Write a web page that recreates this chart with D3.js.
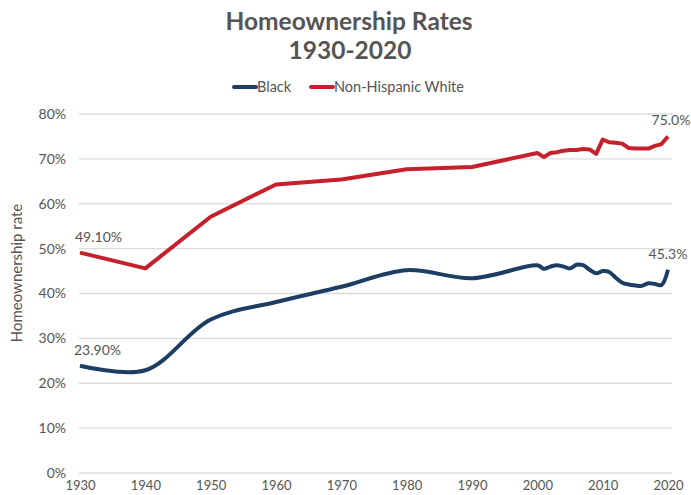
<!DOCTYPE html>
<html>
<head>
<meta charset="utf-8">
<script src="https://cdn.jsdelivr.net/npm/d3@7"></script>
<style>
  body { margin: 0; background: #fff; }
  text { font-family: Lato, "Open Sans", sans-serif; }
</style>
</head>
<body>
<div class="chart"></div>
<script>
// data
const blackYears = [1930, 1940, 1950, 1960, 1970, 1980, 1990,
  2000, 2001, 2002, 2003, 2004, 2005, 2006, 2007, 2008, 2009,
  2010, 2011, 2012, 2013, 2014, 2015, 2016, 2017, 2018, 2019, 2020];
const blackRates = [23.9, 22.9, 34.2, 38.1, 41.5, 45.2, 43.4,
  46.3, 45.5, 46.0, 46.3, 46.0, 45.6, 46.4, 46.3, 45.3, 44.5,
  45.0, 44.8, 43.5, 42.4, 42.0, 41.8, 41.7, 42.3, 42.1, 41.9, 45.3];

const whiteYears = [1930, 1940, 1950, 1960, 1970, 1980, 1990,
  2000, 2001, 2002, 2003, 2004, 2005, 2006, 2007, 2008, 2009,
  2010, 2011, 2012, 2013, 2014, 2015, 2016, 2017, 2018, 2019, 2020];
const whiteRates = [49.1, 45.6, 57.1, 64.3, 65.4, 67.7, 68.2,
  71.3, 70.4, 71.3, 71.5, 71.8, 72.0, 72.0, 72.2, 72.1, 71.1,
  74.3, 73.7, 73.6, 73.4, 72.4, 72.3, 72.3, 72.3, 72.9, 73.3, 75.0];

const xTicks = [1930, 1940, 1950, 1960, 1970, 1980, 1990, 2000, 2010, 2020];
const yTicks = [0, 10, 20, 30, 40, 50, 60, 70, 80];

const W = 691, H = 495;
const navy = "#1d3e62", red = "#c6202c", grey = "#555";

const svg = d3.select(".chart").append("svg")
  .attr("width", W)
  .attr("height", H);

const x = d3.scaleLinear().domain([1930, 2020]).range([80, 668]);
const y = d3.scaleLinear().domain([0, 80]).range([473, 114]);

// title
svg.append("text").attr("x", 349).attr("y", 30)
  .attr("text-anchor", "middle").attr("font-size", 24.5).attr("font-weight", 700)
  .attr("fill", grey).text("Homeownership Rates");
svg.append("text").attr("x", 350).attr("y", 59)
  .attr("text-anchor", "middle").attr("font-size", 24.5).attr("font-weight", 700)
  .attr("fill", grey).text("1930-2020");

// legend
const legend = [
  {name: "Black", color: navy, x: 234},
  {name: "Non-Hispanic White", color: red, x: 311}
];
const lg = svg.selectAll(".lg").data(legend).enter().append("g")
  .attr("transform", d => `translate(${d.x},87)`);
lg.append("line").attr("x1", 0).attr("x2", 22)
  .attr("stroke", d => d.color).attr("stroke-width", 4).attr("stroke-linecap", "round");
lg.append("text").attr("x", 23).attr("y", 5)
  .attr("font-size", 14.5).attr("fill", grey).text(d => d.name);

// grid
svg.selectAll(".grid").data(yTicks).enter().append("line")
  .attr("x1", x(1930) - 1).attr("x2", x(2020) + 4)
  .attr("y1", d => y(d)).attr("y2", d => y(d))
  .attr("stroke", "#dcdcdc").attr("stroke-width", 1.3);

// y axis labels
const yAxis = svg.append("g").attr("transform", "translate(66,0)")
  .call(d3.axisLeft(y).tickValues(yTicks).tickSize(0).tickFormat(d => d + "%"));
yAxis.select(".domain").remove();
yAxis.selectAll("text").attr("font-size", 14).attr("fill", grey)
  .attr("font-family", "Lato, sans-serif").attr("dx", 3);

// x axis labels
const xAxis = svg.append("g").attr("transform", "translate(0,480)")
  .call(d3.axisBottom(x).tickValues(xTicks).tickSize(0).tickFormat(d3.format("d")));
xAxis.select(".domain").remove();
xAxis.selectAll("text").attr("font-size", 13).attr("fill", grey)
  .attr("font-family", "Lato, sans-serif").attr("dy", "0.55em");

svg.append("text")
  .attr("transform", "translate(22,273) rotate(-90)")
  .attr("text-anchor", "middle").attr("font-size", 15).attr("fill", grey)
  .text("Homeownership rate");

// lines
const blackData = blackYears.map((yr, i) => [yr, blackRates[i]]);
const whiteData = whiteYears.map((yr, i) => [yr, whiteRates[i]]);

svg.append("path").datum(whiteData)
  .attr("fill", "none").attr("stroke", red).attr("stroke-width", 4)
  .attr("stroke-linejoin", "round")
  .attr("d", d3.line().x(d => x(d[0])).y(d => y(d[1])));

svg.append("path").datum(blackData)
  .attr("fill", "none").attr("stroke", navy).attr("stroke-width", 4)
  .attr("stroke-linejoin", "round")
  .attr("d", d3.line().curve(d3.curveCatmullRom).x(d => x(d[0])).y(d => y(d[1])));

// value labels
const notes = [
  {t: "49.10%", yr: 1930, v: 49.1, dx: -5, anchor: "start"},
  {t: "23.90%", yr: 1930, v: 23.9, dx: -6, anchor: "start"},
  {t: "75.0%", yr: 2020, v: 75.0, dx: 3, anchor: "middle"},
  {t: "45.3%", yr: 2020, v: 45.3, dx: 0, anchor: "middle"}
];
svg.selectAll(".note").data(notes).enter().append("text")
  .attr("x", d => x(d.yr) + d.dx).attr("y", d => y(d.v) - 11)
  .attr("text-anchor", d => d.anchor)
  .attr("font-size", 14).attr("fill", grey).text(d => d.t);
</script>
</body>
</html>
